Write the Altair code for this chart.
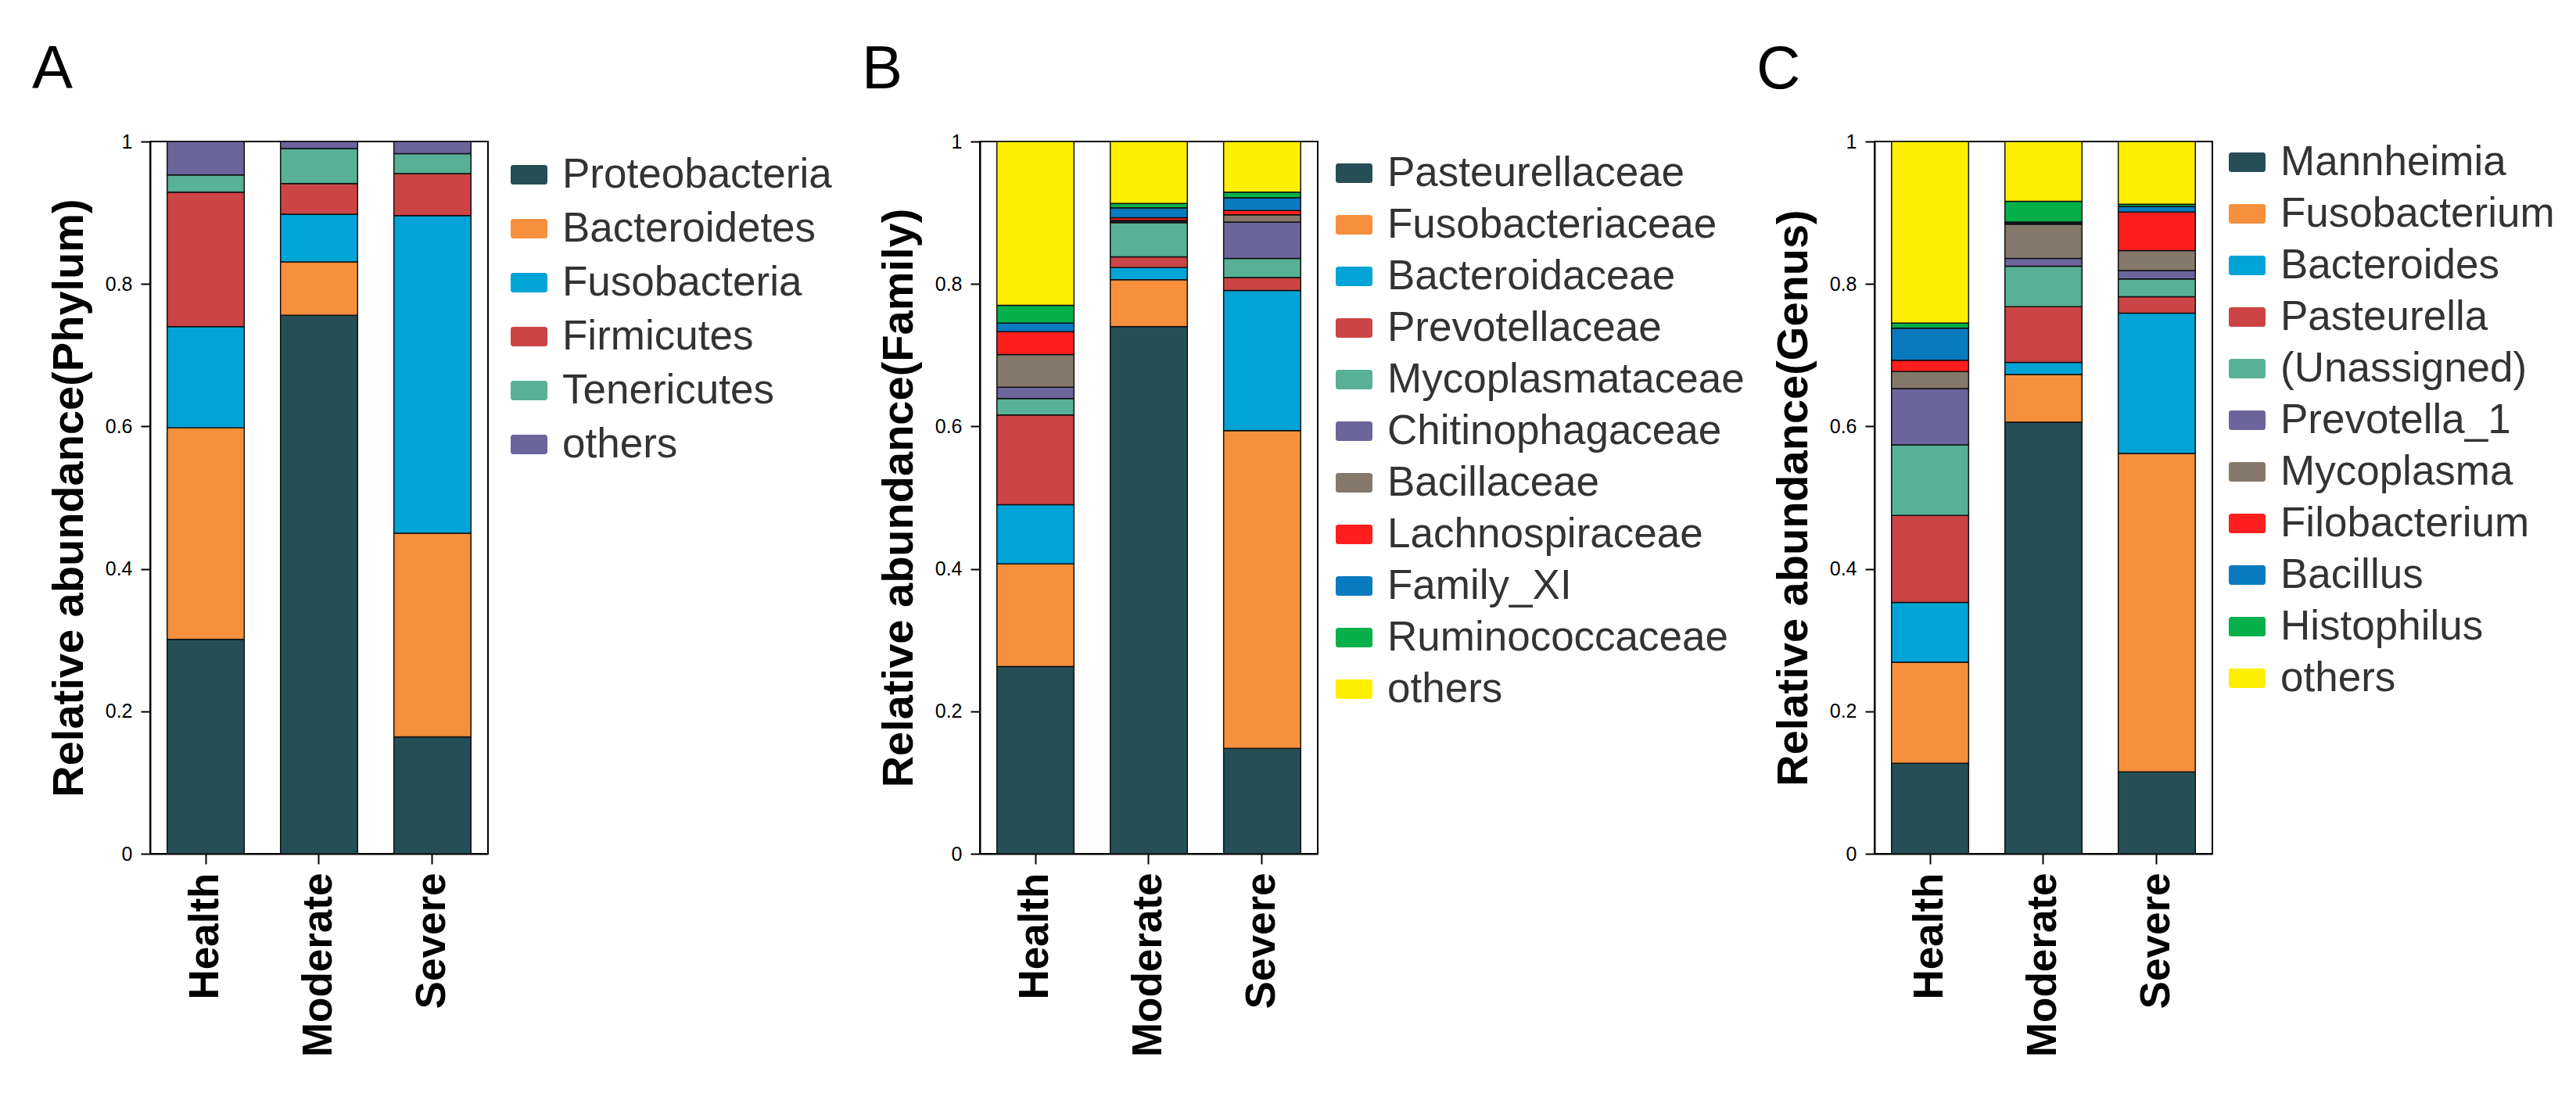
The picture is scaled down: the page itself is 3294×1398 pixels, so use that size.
import altair as alt
import pandas as pd

FONT = "Liberation Sans"

groups = ["Health", "Moderate", "Severe"]

palette = ["#264E56", "#F6903D", "#02A4D7", "#CC4445", "#58B096", "#6B659B",
           "#85796B", "#FF1E1E", "#0A7ABF", "#06B04A", "#FEEF00"]

# Panel A - Phylum
phylum_taxa = ["Proteobacteria", "Bacteroidetes", "Fusobacteria", "Firmicutes",
               "Tenericutes", "others"]
phylum_health = [0.301, 0.297, 0.142, 0.189, 0.024, 0.047]
phylum_moderate = [0.756, 0.075, 0.067, 0.043, 0.049, 0.010]
phylum_severe = [0.164, 0.286, 0.446, 0.059, 0.028, 0.017]

# Panel B - Family
family_taxa = ["Pasteurellaceae", "Fusobacteriaceae", "Bacteroidaceae", "Prevotellaceae",
               "Mycoplasmataceae", "Chitinophagaceae", "Bacillaceae", "Lachnospiraceae",
               "Family_XI", "Ruminococcaceae", "others"]
family_health = [0.263, 0.144, 0.083, 0.126, 0.023, 0.016, 0.046, 0.032, 0.012, 0.025, 0.230]
family_moderate = [0.740, 0.066, 0.017, 0.015, 0.048, 0.002, 0.001, 0.004, 0.014, 0.006, 0.087]
family_severe = [0.148, 0.446, 0.197, 0.018, 0.027, 0.051, 0.010, 0.006, 0.018, 0.008, 0.071]

# Panel C - Genus
genus_taxa = ["Mannheimia", "Fusobacterium", "Bacteroides", "Pasteurella", "(Unassigned)",
              "Prevotella_1", "Mycoplasma", "Filobacterium", "Bacillus", "Histophilus", "others"]
genus_health = [0.127, 0.142, 0.084, 0.122, 0.099, 0.079, 0.024, 0.016, 0.045, 0.007, 0.255]
genus_moderate = [0.606, 0.067, 0.017, 0.078, 0.057, 0.011, 0.048, 0.001, 0.002, 0.029, 0.084]
genus_severe = [0.115, 0.447, 0.197, 0.023, 0.025, 0.012, 0.028, 0.054, 0.008, 0.003, 0.088]

y_ticks = [0, 0.2, 0.4, 0.6, 0.8, 1]

SWATCH = ("M-0.85,-0.53H0.85Q1,-0.53 1,-0.38V0.38Q1,0.53 0.85,0.53H-0.85"
          "Q-1,0.53 -1,0.38V-0.38Q-1,-0.53 -0.85,-0.53Z")


def panel(taxa, health, moderate, severe, rank, letter, legend_x, legend_y, row_pad):
    rows = []
    for g, vals in zip(groups, [health, moderate, severe]):
        for i, (t, v) in enumerate(zip(taxa, vals)):
            rows.append({"group": g, "taxon": t, "value": v, "idx": i})
    df = pd.DataFrame(rows)
    title = alt.Title(letter, anchor="start", frame="group", dx=-151, offset=40,
                      fontSize=78, font=FONT, fontWeight="normal", color="black")
    return alt.Chart(df, title=title).mark_bar(
        stroke="#111111", strokeWidth=1.5
    ).encode(
        x=alt.X("group:N", sort=groups,
                scale=alt.Scale(paddingInner=0.32, paddingOuter=0.15),
                axis=alt.Axis(title=None, labelAngle=-90, labelFont=FONT, labelFontSize=53,
                              labelFontWeight="bold", labelColor="black", tickSize=13,
                              tickWidth=2, tickColor="black", domainColor="black",
                              domainWidth=2, labelPadding=11, labelLimit=0)),
        y=alt.Y("value:Q", stack="zero",
                scale=alt.Scale(domain=[0, 1], nice=False),
                axis=alt.Axis(title=f"Relative abundance({rank})", values=y_ticks, format="~g",
                              grid=False, labelFont=FONT, labelFontSize=25, labelColor="black",
                              tickSize=12, tickWidth=2, tickColor="black", domainColor="black",
                              domainWidth=2, labelPadding=11, titleFont=FONT, titleFontSize=56,
                              titleFontWeight="bold", titleColor="black", titlePadding=17)),
        color=alt.Color("taxon:N", sort=taxa,
                        scale=alt.Scale(domain=taxa, range=palette[:len(taxa)]),
                        legend=alt.Legend(title=None, orient="none", legendX=legend_x,
                                          legendY=legend_y, direction="vertical",
                                          symbolType=SWATCH, symbolSize=2209,
                                          symbolStrokeWidth=0, symbolOpacity=1,
                                          labelFont=FONT, labelFontSize=53,
                                          labelColor="#333333", labelOffset=16,
                                          labelLimit=0, rowPadding=row_pad, padding=0)),
        order=alt.Order("idx:Q", sort="ascending"),
    ).properties(width=432, height=911)


a = panel(phylum_taxa, phylum_health, phylum_moderate, phylum_severe, "Phylum", "A", 458, 16, 15)
b = panel(family_taxa, family_health, family_moderate, family_severe, "Family", "B", 452, 14, 12)
c = panel(genus_taxa, genus_health, genus_moderate, genus_severe, "Genus", "C", 450, 0, 12)

bc = alt.hconcat(b, c, spacing=712, bounds="flush").resolve_scale(color="independent")
chart = alt.hconcat(a, bc, spacing=629, bounds="flush").resolve_scale(
    color="independent"
).properties(
    padding={"left": 32, "top": 42, "right": 10, "bottom": 10}
).configure_view(stroke="black", strokeWidth=2)

chart.save("out.html", embed_options={"renderer": "svg", "actions": False})
